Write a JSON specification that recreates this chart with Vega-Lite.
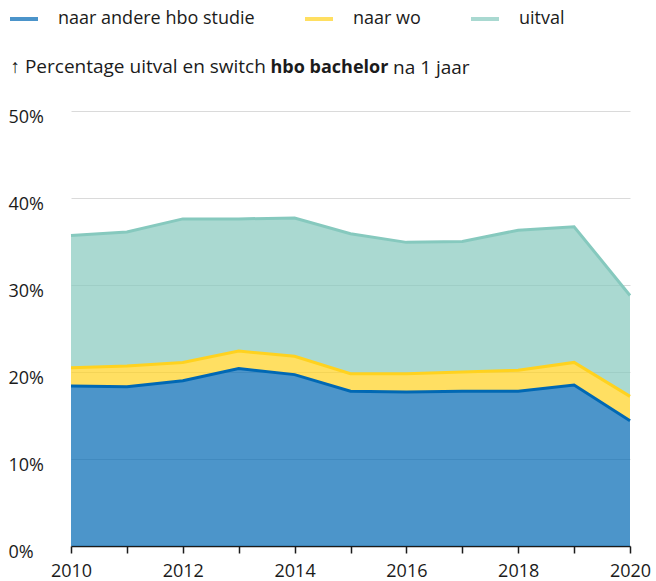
{
  "$schema": "https://vega.github.io/schema/vega-lite/v6.json",
  "width": 559,
  "height": 435,
  "autosize": {"type": "none"},
  "padding": {"left": 71, "top": 111, "right": 26, "bottom": 35},
  "config": {
    "font": "Open Sans",
    "view": {"stroke": null},
    "text": {"color": "#1b1b1b"}
  },
  "title": {
    "text": "na 1 jaar",
    "anchor": "start",
    "frame": "group",
    "orient": "top",
    "dx": 322,
    "dy": 90,
    "baseline": "alphabetic",
    "fontSize": 19,
    "fontWeight": "normal",
    "color": "#1b1b1b",
    "offset": 0
  },
  "data": {
    "values": [
      {"jaar": 2010, "categorie": "naar andere hbo studie", "waarde": 18.4, "volgorde": 1},
      {"jaar": 2011, "categorie": "naar andere hbo studie", "waarde": 18.3, "volgorde": 1},
      {"jaar": 2012, "categorie": "naar andere hbo studie", "waarde": 19.0, "volgorde": 1},
      {"jaar": 2013, "categorie": "naar andere hbo studie", "waarde": 20.4, "volgorde": 1},
      {"jaar": 2014, "categorie": "naar andere hbo studie", "waarde": 19.7, "volgorde": 1},
      {"jaar": 2015, "categorie": "naar andere hbo studie", "waarde": 17.8, "volgorde": 1},
      {"jaar": 2016, "categorie": "naar andere hbo studie", "waarde": 17.7, "volgorde": 1},
      {"jaar": 2017, "categorie": "naar andere hbo studie", "waarde": 17.8, "volgorde": 1},
      {"jaar": 2018, "categorie": "naar andere hbo studie", "waarde": 17.8, "volgorde": 1},
      {"jaar": 2019, "categorie": "naar andere hbo studie", "waarde": 18.5, "volgorde": 1},
      {"jaar": 2020, "categorie": "naar andere hbo studie", "waarde": 14.4, "volgorde": 1},
      {"jaar": 2010, "categorie": "naar wo", "waarde": 2.1, "volgorde": 2},
      {"jaar": 2011, "categorie": "naar wo", "waarde": 2.4, "volgorde": 2},
      {"jaar": 2012, "categorie": "naar wo", "waarde": 2.1, "volgorde": 2},
      {"jaar": 2013, "categorie": "naar wo", "waarde": 2.0, "volgorde": 2},
      {"jaar": 2014, "categorie": "naar wo", "waarde": 2.1, "volgorde": 2},
      {"jaar": 2015, "categorie": "naar wo", "waarde": 2.0, "volgorde": 2},
      {"jaar": 2016, "categorie": "naar wo", "waarde": 2.1, "volgorde": 2},
      {"jaar": 2017, "categorie": "naar wo", "waarde": 2.2, "volgorde": 2},
      {"jaar": 2018, "categorie": "naar wo", "waarde": 2.4, "volgorde": 2},
      {"jaar": 2019, "categorie": "naar wo", "waarde": 2.6, "volgorde": 2},
      {"jaar": 2020, "categorie": "naar wo", "waarde": 2.8, "volgorde": 2},
      {"jaar": 2010, "categorie": "uitval", "waarde": 15.2, "volgorde": 3},
      {"jaar": 2011, "categorie": "uitval", "waarde": 15.4, "volgorde": 3},
      {"jaar": 2012, "categorie": "uitval", "waarde": 16.5, "volgorde": 3},
      {"jaar": 2013, "categorie": "uitval", "waarde": 15.2, "volgorde": 3},
      {"jaar": 2014, "categorie": "uitval", "waarde": 15.9, "volgorde": 3},
      {"jaar": 2015, "categorie": "uitval", "waarde": 16.1, "volgorde": 3},
      {"jaar": 2016, "categorie": "uitval", "waarde": 15.1, "volgorde": 3},
      {"jaar": 2017, "categorie": "uitval", "waarde": 15.0, "volgorde": 3},
      {"jaar": 2018, "categorie": "uitval", "waarde": 16.1, "volgorde": 3},
      {"jaar": 2019, "categorie": "uitval", "waarde": 15.6, "volgorde": 3},
      {"jaar": 2020, "categorie": "uitval", "waarde": 11.6, "volgorde": 3}
    ]
  },
  "encoding": {
    "x": {
      "field": "jaar",
      "type": "quantitative",
      "scale": {"domain": [2010, 2020], "nice": false, "zero": false},
      "axis": {
        "values": [2010, 2011, 2012, 2013, 2014, 2015, 2016, 2017, 2018, 2019, 2020],
        "format": "d",
        "labelExpr": "datum.value % 2 == 0 ? datum.label : ''",
        "grid": false,
        "domainColor": "#1b1b1b",
        "domainWidth": 1.5,
        "tickColor": "#1b1b1b",
        "tickWidth": 1.5,
        "tickSize": 7,
        "labelFontSize": 18,
        "labelColor": "#1b1b1b",
        "labelBaseline": "alphabetic",
        "labelPadding": 23,
        "labelFlush": false,
        "labelOverlap": false,
        "title": "hbo bachelor",
        "titleFontSize": 18,
        "titleFontWeight": "bold",
        "titleColor": "#1b1b1b",
        "titleAlign": "left",
        "titleAnchor": "start",
        "titleBaseline": "alphabetic",
        "titleX": 199,
        "titleY": -474
      }
    },
    "y": {
      "field": "waarde",
      "type": "quantitative",
      "stack": "zero",
      "scale": {"domain": [0, 50], "nice": false},
      "axis": {
        "values": [0, 10, 20, 30, 40, 50],
        "labelExpr": "datum.value + '%'",
        "domain": false,
        "ticks": false,
        "tickSize": 0,
        "gridColor": "#dadada",
        "gridWidth": 1,
        "labelAlign": "left",
        "labelBaseline": "alphabetic",
        "labelOffset": 11,
        "labelPadding": 63,
        "labelFontSize": 18,
        "labelColor": "#1b1b1b",
        "title": "↑ Percentage uitval en switch",
        "titleFontSize": 19,
        "titleFontWeight": "normal",
        "titleColor": "#1b1b1b",
        "titleAngle": 0,
        "titleAlign": "left",
        "titleAnchor": "start",
        "titleBaseline": "alphabetic",
        "titleX": -61,
        "titleY": -39
      }
    },
    "color": {
      "field": "categorie",
      "type": "nominal",
      "scale": {
        "domain": ["naar andere hbo studie", "naar wo", "uitval"],
        "range": ["#0068b4", "#ffd21f", "#86c9be"]
      },
      "legend": {
        "orient": "none",
        "legendX": -63,
        "legendY": -108,
        "direction": "horizontal",
        "title": null,
        "symbolType": "stroke",
        "symbolSize": 784,
        "symbolStrokeWidth": 4,
        "labelFontSize": 18,
        "labelColor": "#1b1b1b",
        "labelOffset": 18,
        "columnPadding": 42,
        "labelLimit": 400
      }
    },
    "order": {"field": "volgorde", "type": "quantitative"}
  },
  "layer": [
    {"mark": {"type": "area", "opacity": 0.7}},
    {"mark": {"type": "line", "strokeWidth": 3}}
  ]
}
